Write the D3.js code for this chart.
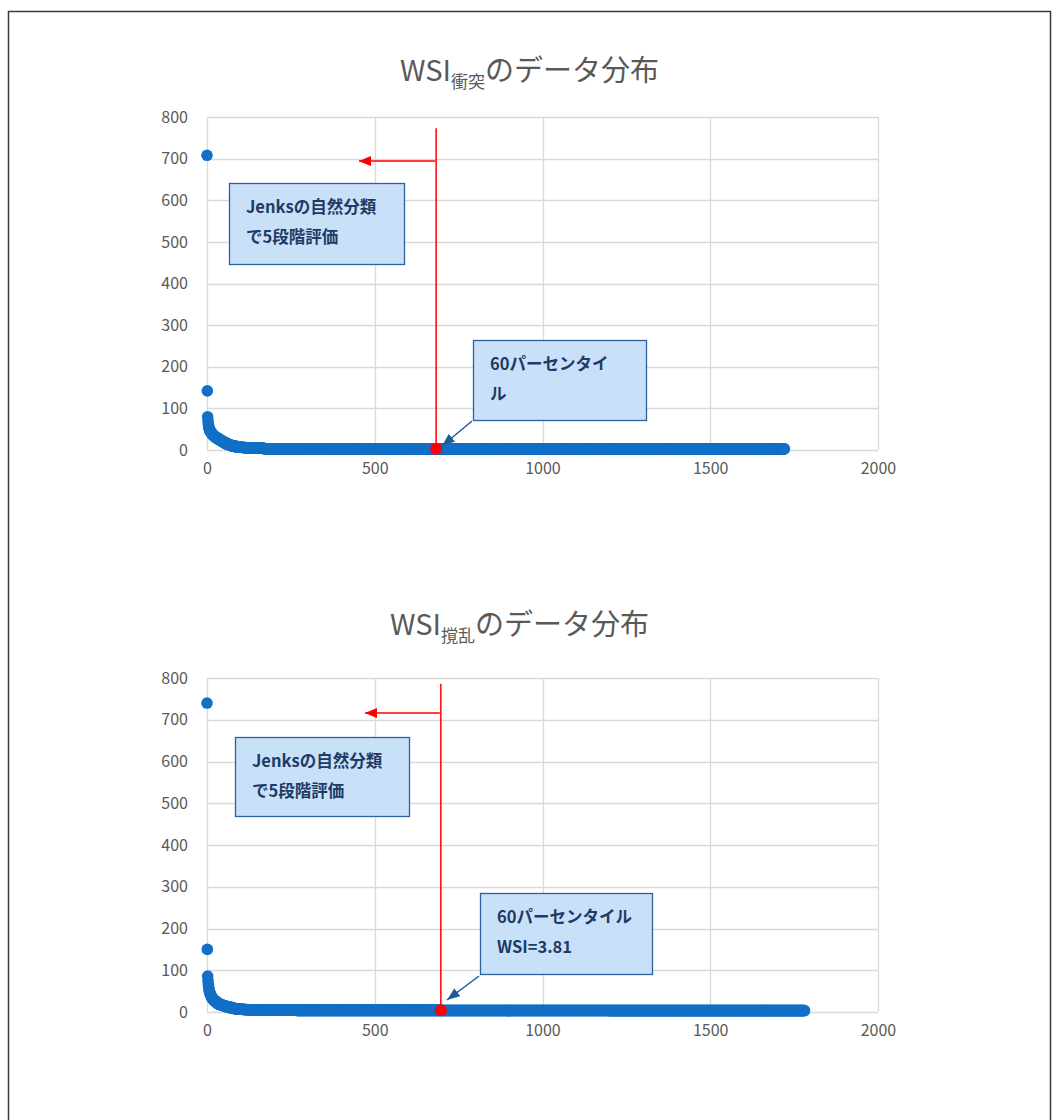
<!DOCTYPE html>
<html>
<head>
<meta charset="utf-8">
<script src="https://cdn.jsdelivr.net/npm/d3@7"></script>
<style>
  body { margin: 0; background: #fff; }
  text { font-family: "Noto Sans CJK JP", "Noto Sans", sans-serif; }
</style>
</head>
<body>
<svg id="chart" width="1058" height="1120"></svg>
<script>
// sorted WSI values, stored as [value, count] runs
const collisionRuns = [
  [708, 1], [142, 1], [80, 1], [70, 1], [62, 1], [57, 1], [53, 1], [50, 1],
  [47, 2], [44, 2], [41, 3], [38, 3], [35, 4], [32, 5], [29, 6], [26, 6],
  [23, 6], [20, 6], [17, 7], [14, 7], [12, 8], [10, 10], [8, 10], [7, 10],
  [6, 13], [5, 13], [4.5, 40], [3, 550], [2.8, 600], [2.6, 403]
];
const disturbRuns = [
  [740, 1], [150, 1], [86, 1], [75, 1], [66, 1], [60, 1], [55, 1], [50, 1],
  [46, 2], [42, 2], [38, 2], [34, 3], [31, 3], [28, 4], [25, 5], [22, 5],
  [19, 6], [17, 7], [15, 8], [13, 9], [11, 10], [9, 10], [7.5, 10], [6.5, 12],
  [6, 12], [5.5, 150], [4, 430], [3.81, 1], [3.7, 500], [3.5, 583]
];
const pctIndex = [683, 697];      // 60th percentile position in each series

const xTicks = [0, 500, 1000, 1500, 2000];
const yTicks = [0, 100, 200, 300, 400, 500, 600, 700, 800];
const titleMain = ["WSI", "WSI"];
const titleSub = ["衝突", "撹乱"];
const titleTail = ["のデータ分布", "のデータ分布"];
const jenksNote = ["Jenksの自然分類", "で5段階評価"];
const pctNotes = [["60パーセンタイ", "ル"], ["60パーセンタイル", "WSI=3.81"]];

const blue = "#1270c6";
const grid = "#d9d9d9";
const labelColor = "#595959";

// layout of the two panels (pixels)
const panels = [
  { top: 117, bottom: 450, titleX: 400, titleY: 81,
    jenks: { x: 229, y: 183, w: 175, h: 81 },
    pct: { x: 473, y: 340, w: 173, h: 80 },
    callout: [[472, 421], [442, 446]],
    redTop: 773, arrowY: 694, arrowTip: 453 },
  { top: 678, bottom: 1012, titleX: 390, titleY: 635,
    jenks: { x: 235, y: 737, w: 174, h: 79 },
    pct: { x: 480, y: 893, w: 172, h: 81 },
    callout: [[479, 976], [447, 1000]],
    redTop: 786, arrowY: 716, arrowTip: 471 }
];

const expand = runs => runs.flatMap(([v, n]) => d3.range(n).map(() => v));
const series = [expand(collisionRuns), expand(disturbRuns)];

const svg = d3.select("#chart");

// outer frame
svg.append("path")
  .attr("d", "M8.5,1120V11.5H1050.5V1120")
  .attr("fill", "none").attr("stroke", "#3a3a3a").attr("stroke-width", 1.5);

const defs = svg.append("defs");
defs.append("marker").attr("id", "redHead")
  .attr("viewBox", "0 0 12 10").attr("refX", 12).attr("refY", 5)
  .attr("markerUnits", "userSpaceOnUse").attr("markerWidth", 12).attr("markerHeight", 10)
  .attr("orient", "auto")
  .append("path").attr("d", "M0,0L12,5L0,10Z").attr("fill", "#ff0000");
defs.append("marker").attr("id", "blueHead")
  .attr("viewBox", "0 0 13 10").attr("refX", 13).attr("refY", 5)
  .attr("markerUnits", "userSpaceOnUse").attr("markerWidth", 13).attr("markerHeight", 10)
  .attr("orient", "auto")
  .append("path").attr("d", "M0,0L13,5L0,10Z").attr("fill", "#1f5b96");

panels.forEach((p, i) => {
  const data = series[i];
  const x = d3.scaleLinear().domain([0, 2000]).range([207, 878]);
  const y = d3.scaleLinear().domain([0, 800]).range([p.bottom, p.top]);
  const g = svg.append("g");

  // title
  const t = g.append("text").attr("x", p.titleX).attr("y", p.titleY)
    .attr("fill", labelColor).attr("font-size", 29);
  t.append("tspan").text(titleMain[i]);
  t.append("tspan").attr("font-size", 17).attr("dy", 7).text(titleSub[i]);
  t.append("tspan").attr("dy", -7).text(titleTail[i]);

  // gridlines
  g.append("g").selectAll("line").data(yTicks).join("line")
    .attr("x1", x(0)).attr("x2", x(2000))
    .attr("y1", d => Math.round(y(d)) + 0.5).attr("y2", d => Math.round(y(d)) + 0.5)
    .attr("stroke", grid).attr("stroke-width", 1.3);
  g.append("g").selectAll("line").data(xTicks).join("line")
    .attr("x1", d => Math.round(x(d)) + 0.5).attr("x2", d => Math.round(x(d)) + 0.5)
    .attr("y1", y(0)).attr("y2", y(800))
    .attr("stroke", grid).attr("stroke-width", 1.3);

  // axes labels
  const yAxis = g.append("g").attr("transform", `translate(${x(0) - 19},0)`)
    .call(d3.axisLeft(y).tickValues(yTicks).tickSize(0).tickPadding(0));
  const xAxis = g.append("g").attr("transform", `translate(0,${y(0) + 13})`)
    .call(d3.axisBottom(x).tickValues(xTicks).tickSize(0).tickPadding(0).tickFormat(d3.format("d")));
  [yAxis, xAxis].forEach(a => {
    a.select(".domain").remove();
    a.selectAll("text").attr("fill", labelColor).attr("font-size", 16)
      .attr("font-family", "'Noto Sans', sans-serif");
  });
  xAxis.selectAll("text").attr("dy", "0.71em");

  // data points
  g.append("g").selectAll("circle").data(data).join("circle")
    .attr("cx", (d, k) => x(k)).attr("cy", d => y(d))
    .attr("r", 5.8).attr("fill", blue);

  // 60 percentile line, marker and arrow
  const pi = pctIndex[i];
  g.append("line")
    .attr("x1", x(pi)).attr("x2", x(pi)).attr("y1", y(p.redTop)).attr("y2", y(0))
    .attr("stroke", "#ff0000").attr("stroke-width", 1.5);
  g.append("line")
    .attr("x1", x(pi) - 1).attr("x2", x(p.arrowTip))
    .attr("y1", y(p.arrowY)).attr("y2", y(p.arrowY))
    .attr("stroke", "#ff0000").attr("stroke-width", 1.5)
    .attr("marker-end", "url(#redHead)");
  g.append("circle").attr("cx", x(pi)).attr("cy", y(data[pi]))
    .attr("r", 6).attr("fill", "#ff0000");

  // note boxes
  const box = (b, lines, dy) => {
    g.append("rect").attr("x", b.x + 0.5).attr("y", b.y + 0.5)
      .attr("width", b.w).attr("height", b.h)
      .attr("fill", "#c9e1f8").attr("stroke", "#2a62a0").attr("stroke-width", 1.3);
    lines.forEach((s, k) => {
      g.append("text").attr("x", b.x + 17).attr("y", b.y + dy + k * 30)
        .attr("fill", "#1d3b66").attr("font-size", 16.5).attr("font-weight", 600)
        .text(s);
    });
  };
  box(p.jenks, jenksNote, 30);
  box(p.pct, pctNotes[i], 30);

  g.append("line")
    .attr("x1", p.callout[0][0]).attr("y1", p.callout[0][1])
    .attr("x2", p.callout[1][0]).attr("y2", p.callout[1][1])
    .attr("stroke", "#1f5b96").attr("stroke-width", 1.5)
    .attr("marker-end", "url(#blueHead)");
});
</script>
</body>
</html>
